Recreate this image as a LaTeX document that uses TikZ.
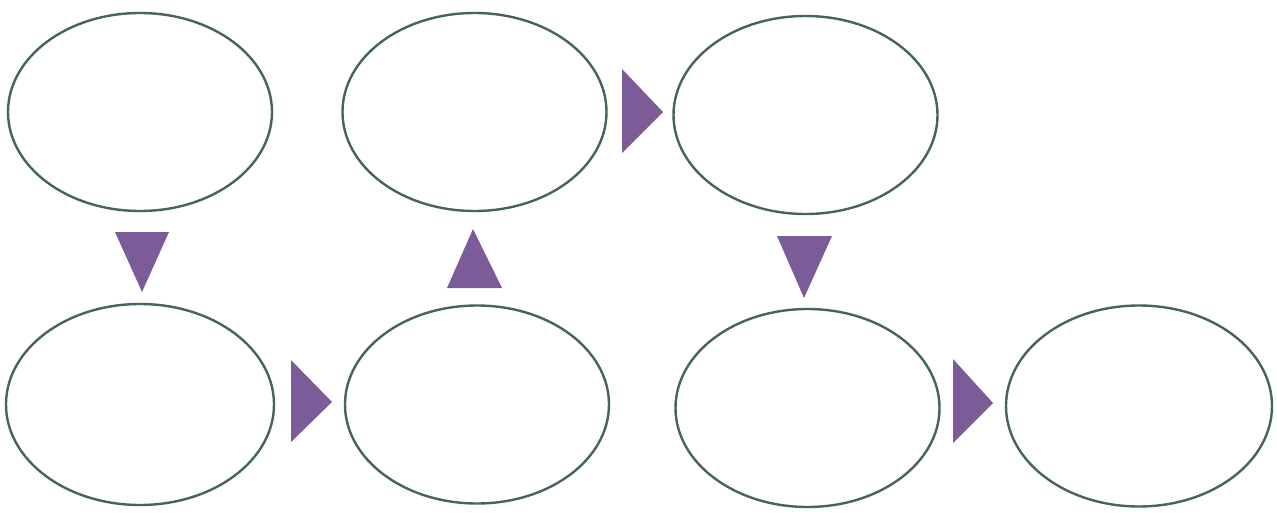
\documentclass[tikz,border=0pt]{standalone}
\usetikzlibrary{shapes.geometric}
\definecolor{ringcol}{RGB}{70,100,88}
\definecolor{tricol}{RGB}{123,92,153}
\tikzset{
  ring/.style={ellipse, draw=ringcol, line width=2.4pt, inner sep=0pt,
    minimum width=264pt, minimum height=198pt},
  tri/.style={fill=tricol, draw=none}
}
\begin{document}
\begin{tikzpicture}[x=1pt,y=-1pt]
\useasboundingbox[fill=white] (0,0) rectangle (1277,514);
\node[ring] (a) at (140,112) {};
\node[ring] (b) at (474.5,112) {};
\node[ring] (c) at (805.5,115) {};
\node[ring, minimum width=268pt, minimum height=201pt] (d) at (140,404.5) {};
\node[ring] (e) at (477,404.5) {};
\node[ring] (f) at (807.5,408) {};
\node[ring, minimum width=266pt, minimum height=201pt] (g) at (1139,406) {};
% arrow triangles
\fill[tri] (115,232) -- (169,232) -- (142,292) -- cycle;
\fill[tri] (447,288) -- (502,288) -- (473,229) -- cycle;
\fill[tri] (622,69) -- (663,112) -- (622,153) -- cycle;
\fill[tri] (777,236) -- (832,236) -- (804,298) -- cycle;
\fill[tri] (291,360) -- (332,402) -- (291,442) -- cycle;
\fill[tri] (953,359) -- (993,403) -- (953,443) -- cycle;
\end{tikzpicture}
\end{document}
